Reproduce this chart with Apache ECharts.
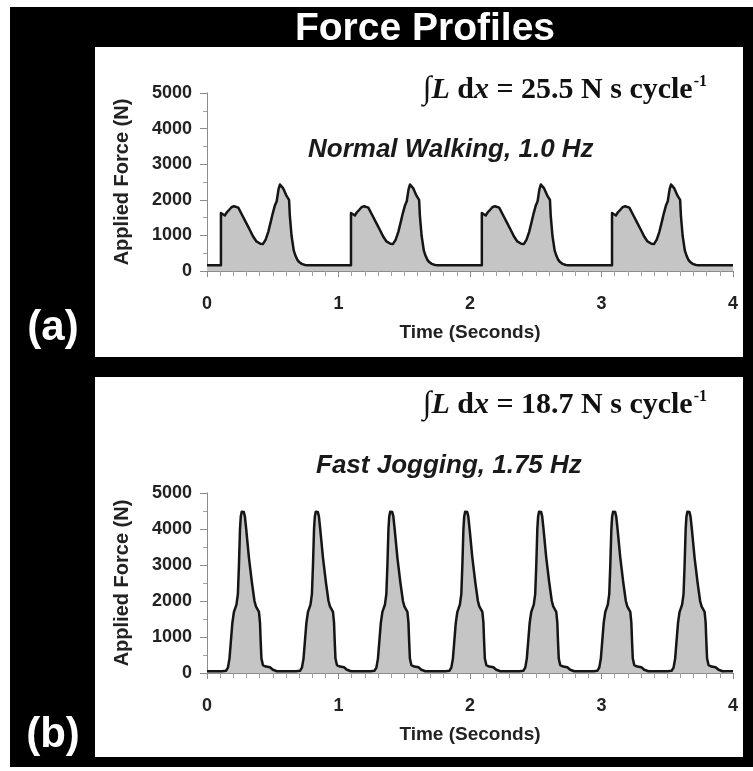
<!DOCTYPE html>
<html>
<head>
<meta charset="utf-8">
<script src="https://cdn.jsdelivr.net/npm/echarts@6/dist/echarts.min.js"></script>
<style>
  html, body { margin: 0; padding: 0; background: #fff; }
  #chart { width: 753px; height: 771px; }
</style>
</head>
<body>
<div id="chart"></div>
<script>
// ---- Normal walking, 1.0 Hz: one gait cycle repeated at each heel strike ----
const walkStrikeTimes = [0.106, 1.095, 2.09, 3.08];          // s
const walkBaseline = 160;                                     // N
const walkCycleDt = [0, 0.015, 0.03, 0.045, 0.063, 0.08, 0.1, 0.115, 0.132, 0.16, 0.194, 0.22, 0.246, 0.27,
  0.284, 0.3, 0.32, 0.34, 0.36, 0.38, 0.394, 0.411, 0.424, 0.438, 0.449, 0.46, 0.474, 0.499, 0.518, 0.524,
  0.537, 0.554, 0.568, 0.58, 0.595, 0.614, 0.64, 0.66];
const walkCycleForce = [1630, 1600, 1560, 1650, 1720, 1790, 1820, 1810, 1780, 1580, 1340, 1150, 960, 830,
  790, 765, 760, 880, 1100, 1400, 1620, 1850, 1960, 2300, 2430, 2400, 2320, 2110, 2000, 1550,
  990, 570, 420, 320, 250, 200, 170, 160];

// ---- Fast jogging, 1.75 Hz: one foot-strike pulse centred on each peak ----
const jogPeakTimes = [0.271, 0.834, 1.40, 1.97, 2.532, 3.095, 3.66];  // s
const jogBaseline = 50;                                               // N
const jogPulseDt = [-0.157, -0.127, -0.112, -0.100, -0.089, -0.078, -0.066, -0.047, -0.036, -0.028, -0.02,
  -0.014, -0.007, 0, 0.009, 0.017, 0.027, 0.048, 0.071, 0.090, 0.101, 0.124, 0.132, 0.137, 0.143, 0.154,
  0.177, 0.208, 0.230, 0.261];
const jogPulseForce = [50, 60, 150, 400, 900, 1400, 1700, 1900, 2200, 3000, 4000,
  4350, 4480, 4500, 4470, 4350, 4000, 3200, 2500, 2000, 1850, 1700, 1400, 900, 400, 220,
  180, 160, 90, 50];

// ---- Axes ----
const timeRange = [0, 4];
const timeStep = 1;
const forceRange = [0, 5000];
const forceStep = 1000;

const walkIntegral = '25.5';
const jogIntegral = '18.7';

function buildWalk() {
  const pts = [[timeRange[0], walkBaseline]];
  walkStrikeTimes.forEach(t0 => {
    pts.push([t0, walkBaseline]);
    walkCycleDt.forEach((dt, i) => pts.push([+(t0 + dt).toFixed(4), walkCycleForce[i]]));
  });
  pts.push([timeRange[1], walkBaseline]);
  return pts;
}

function buildJog() {
  const pts = [[timeRange[0], jogBaseline]];
  jogPeakTimes.forEach(tp => {
    jogPulseDt.forEach((dt, i) => pts.push([+(tp + dt).toFixed(4), jogPulseForce[i]]));
  });
  pts.push([timeRange[1], jogBaseline]);
  return pts;
}

const SANS = '"Liberation Sans", Arial, sans-serif';
const SERIF = '"Liberation Serif", "Times New Roman", "DejaVu Serif", serif';
const AXIS_GREY = '#8c8c8c';
const LABEL = '#222';
const plain = v => String(v);

function xAxisFor(gi) {
  return {
    type: 'value', gridIndex: gi, min: timeRange[0], max: timeRange[1], interval: timeStep,
    axisLine: { show: true, lineStyle: { color: AXIS_GREY, width: 1 } },
    axisTick: { show: true, length: 6, lineStyle: { color: AXIS_GREY } },
    minorTick: { show: true, splitNumber: 10, length: 5, lineStyle: { color: '#a0a0a0' } },
    splitLine: { show: false },
    axisLabel: { margin: 24, fontSize: 18, fontWeight: 'bold', color: LABEL, fontFamily: SANS, formatter: plain },
    name: 'Time (Seconds)', nameLocation: 'middle', nameGap: 52,
    nameTextStyle: { fontSize: 19, fontWeight: 'bold', color: LABEL, fontFamily: SANS }
  };
}

function yAxisFor(gi) {
  return {
    type: 'value', gridIndex: gi, min: forceRange[0], max: forceRange[1], interval: forceStep,
    axisLine: { show: true, lineStyle: { color: AXIS_GREY, width: 1 } },
    axisTick: { show: true, length: 7, lineStyle: { color: AXIS_GREY } },
    minorTick: { show: true, splitNumber: 2, length: 4, lineStyle: { color: '#a0a0a0' } },
    splitLine: { show: false },
    axisLabel: { margin: 15, fontSize: 18, fontWeight: 'bold', color: LABEL, fontFamily: SANS, formatter: plain },
    name: 'Applied Force (N)', nameLocation: 'middle', nameGap: 75,
    nameTextStyle: { fontSize: 20, fontWeight: 'bold', color: LABEL, fontFamily: SANS }
  };
}

function formula(value, y) {
  return {
    type: 'text', right: 46, top: y, z: 100,
    style: {
      text: '{i|∫}{it|L}{r| d}{it|x}{r| = ' + value + ' N s cycle}{sup|-1}',
      fill: '#111',
      rich: {
        i: { fontFamily: SERIF, fontSize: 32, fontWeight: 'bold', fill: '#111' },
        it: { fontFamily: SERIF, fontSize: 30, fontWeight: 'bold', fontStyle: 'italic', fill: '#111' },
        r: { fontFamily: SERIF, fontSize: 30, fontWeight: 'bold', fill: '#111' },
        sup: { fontFamily: SERIF, fontSize: 16, fontWeight: 'bold', fill: '#111', verticalAlign: 'top', padding: [0, 0, 16, 1] }
      }
    }
  };
}

function subtitle(text, x, y) {
  return {
    type: 'text', left: x, top: y, z: 100,
    style: { text, fill: '#1a1a1a', font: 'italic bold 26px ' + SANS }
  };
}

const lineStyle = { color: '#151515', width: 2.5, join: 'round' };
const areaStyle = { color: '#c5c5c5', opacity: 1 };

const option = {
  backgroundColor: '#fff',
  animation: false,
  grid: [
    { left: 207, right: 20, top: 93, height: 178 },
    { left: 207, right: 20, top: 493, height: 180 }
  ],
  xAxis: [xAxisFor(0), xAxisFor(1)],
  yAxis: [yAxisFor(0), yAxisFor(1)],
  graphic: [
    // black frame and white panels
    { type: 'rect', z: -10, shape: { x: 10, y: 7, width: 743, height: 760 }, style: { fill: '#000' } },
    { type: 'rect', z: -9, shape: { x: 95, y: 47, width: 648, height: 310 }, style: { fill: '#fff' } },
    { type: 'rect', z: -9, shape: { x: 95, y: 377, width: 648, height: 380 }, style: { fill: '#fff' } },
    { type: 'text', x: 425, y: 29, z: 100,
      style: { text: 'Force Profiles', fill: '#fff', font: 'bold 39px ' + SANS, align: 'center', verticalAlign: 'middle' } },
    { type: 'text', x: 53, y: 328, z: 100,
      style: { text: '(a)', fill: '#fff', font: 'bold 42px ' + SANS, align: 'center', verticalAlign: 'middle' } },
    { type: 'text', x: 53, y: 735, z: 100,
      style: { text: '(b)', fill: '#fff', font: 'bold 42px ' + SANS, align: 'center', verticalAlign: 'middle' } },
    formula(walkIntegral, 74),
    formula(jogIntegral, 389),
    subtitle('Normal Walking, 1.0 Hz', 308, 137),
    subtitle('Fast Jogging, 1.75 Hz', 316, 453)
  ],
  series: [
    { type: 'line', xAxisIndex: 0, yAxisIndex: 0, data: buildWalk(), showSymbol: false, symbol: 'none',
      lineStyle, areaStyle, z: 3 },
    { type: 'line', xAxisIndex: 1, yAxisIndex: 1, data: buildJog(), showSymbol: false, symbol: 'none',
      lineStyle, areaStyle, z: 3 }
  ]
};

const chart = echarts.init(document.getElementById('chart'), null, { renderer: 'canvas' });
chart.setOption(option);
</script>
</body>
</html>
